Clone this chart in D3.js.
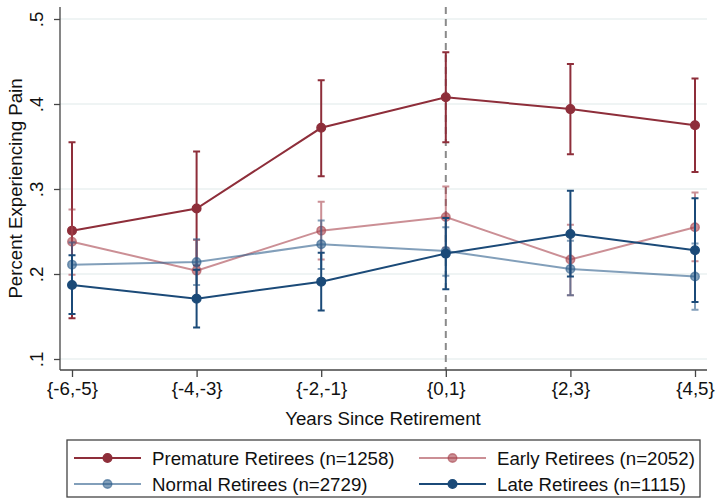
<!DOCTYPE html>
<html>
<head>
<meta charset="utf-8">
<script src="https://cdn.jsdelivr.net/npm/d3@7"></script>
<style>
  html, body { margin: 0; padding: 0; background: #fff; }
  svg { display: block; font-family: "Liberation Sans", Arial, sans-serif; }
</style>
</head>
<body>
<svg id="chart" width="716" height="499"></svg>
<script>
// Periods relative to retirement
const categories = ["{-6,-5}", "{-4,-3}", "{-2,-1}", "{0,1}", "{2,3}", "{4,5}"];
const yTicks = [0.1, 0.2, 0.3, 0.4, 0.5];

// Share experiencing pain, with 95% confidence bounds
const prematureMean  = [0.251, 0.277, 0.372, 0.408, 0.394, 0.375];
const prematureLow   = [0.148, 0.210, 0.315, 0.355, 0.341, 0.320];
const prematureHigh  = [0.355, 0.344, 0.428, 0.461, 0.447, 0.430];

const earlyMean  = [0.238, 0.204, 0.251, 0.267, 0.217, 0.255];
const earlyLow   = [0.199, 0.170, 0.217, 0.231, 0.175, 0.215];
const earlyHigh  = [0.276, 0.240, 0.285, 0.303, 0.258, 0.296];

const normalMean  = [0.211, 0.214, 0.235, 0.227, 0.206, 0.197];
const normalLow   = [0.185, 0.187, 0.206, 0.198, 0.175, 0.158];
const normalHigh  = [0.237, 0.241, 0.263, 0.255, 0.239, 0.236];

const lateMean  = [0.187, 0.171, 0.191, 0.224, 0.247, 0.228];
const lateLow   = [0.153, 0.137, 0.157, 0.182, 0.197, 0.167];
const lateHigh  = [0.222, 0.205, 0.225, 0.266, 0.298, 0.289];

const seriesNames = ["Premature Retirees (n=1258)", "Early Retirees (n=2052)",
                     "Normal Retirees (n=2729)", "Late Retirees (n=1115)"];

const series = [
  { name: seriesNames[0], mean: prematureMean, low: prematureLow, high: prematureHigh,
    color: "#8e2e3a", opacity: 1 },
  { name: seriesNames[1], mean: earlyMean, low: earlyLow, high: earlyHigh,
    color: "#a9444f", opacity: 0.6 },
  { name: seriesNames[2], mean: normalMean, low: normalLow, high: normalHigh,
    color: "#2e5f8c", opacity: 0.6 },
  { name: seriesNames[3], mean: lateMean, low: lateLow, high: lateHigh,
    color: "#1b4a78", opacity: 1 }
];

const svg = d3.select("#chart");
const FONT = 18.7;

const x = d3.scalePoint().domain(categories).range([72, 695]);
const y = d3.scaleLinear().domain([0.1, 0.5]).range([359, 19]);

const plotLeft = 60, plotRight = 707, plotTop = 7, plotBottom = 370;

// grid lines
svg.append("g")
  .selectAll("line")
  .data(yTicks)
  .join("line")
  .attr("x1", plotLeft).attr("x2", plotRight)
  .attr("y1", d => y(d)).attr("y2", d => y(d))
  .attr("stroke", "#eaf1f1")
  .attr("stroke-width", 1.5);

// reference line at retirement
svg.append("line")
  .attr("x1", x("{0,1}")).attr("x2", x("{0,1}"))
  .attr("y1", plotTop).attr("y2", plotBottom)
  .attr("stroke", "#8a8a8a")
  .attr("stroke-width", 2)
  .attr("stroke-dasharray", "7,5");

// y axis
const yAxis = svg.append("g")
  .attr("transform", `translate(${plotLeft},0)`)
  .call(d3.axisLeft(y).tickValues(yTicks).tickSize(6)
        .tickFormat(d => d3.format(".1f")(d).replace(/^0/, "")));
yAxis.select(".domain").attr("d", `M0,${plotTop}V${plotBottom}`)
  .attr("stroke", "#444").attr("stroke-width", 1.3);
yAxis.selectAll(".tick line").attr("stroke", "#444").attr("stroke-width", 1.3);
yAxis.selectAll(".tick text")
  .attr("x", null).attr("dy", null)
  .attr("transform", "translate(-17,0) rotate(-90)")
  .attr("text-anchor", "middle")
  .attr("font-size", FONT)
  .attr("font-family", "Liberation Sans, Arial, sans-serif")
  .attr("fill", "#111");

// x axis
const xAxis = svg.append("g")
  .attr("transform", `translate(0,${plotBottom})`)
  .call(d3.axisBottom(x).tickSize(7));
xAxis.select(".domain").attr("d", `M${plotLeft},0H${plotRight}`)
  .attr("stroke", "#444").attr("stroke-width", 1.3);
xAxis.selectAll(".tick line").attr("stroke", "#444").attr("stroke-width", 1.3);
xAxis.selectAll(".tick text")
  .attr("y", 25).attr("dy", null)
  .attr("font-size", FONT)
  .attr("font-family", "Liberation Sans, Arial, sans-serif")
  .attr("fill", "#111");

// axis titles
svg.append("text")
  .attr("x", 383).attr("y", 425)
  .attr("text-anchor", "middle")
  .attr("font-size", FONT)
  .attr("fill", "#111")
  .text("Years Since Retirement");

svg.append("text")
  .attr("transform", `translate(22,${(plotTop + plotBottom) / 2}) rotate(-90)`)
  .attr("text-anchor", "middle")
  .attr("font-size", FONT)
  .attr("fill", "#111")
  .text("Percent Experiencing Pain");

// series: confidence bars, connecting line, markers (each element translucent
// on its own so overlaps within a series darken)
const capHalf = 3.5;
series.forEach(s => {
  const g = svg.append("g");
  const idx = d3.range(categories.length);

  idx.forEach(i => {
    const cx = x(categories[i]);
    g.append("path")
      .attr("d", `M${cx},${y(s.low[i])}V${y(s.high[i])}` +
                 `M${cx - capHalf},${y(s.low[i])}H${cx + capHalf}` +
                 `M${cx - capHalf},${y(s.high[i])}H${cx + capHalf}`)
      .attr("fill", "none")
      .attr("stroke", s.color)
      .attr("stroke-opacity", s.opacity)
      .attr("stroke-width", 2);
  });

  g.append("path")
    .datum(idx)
    .attr("fill", "none")
    .attr("stroke", s.color)
    .attr("stroke-opacity", s.opacity)
    .attr("stroke-width", 2)
    .attr("d", d3.line().x(i => x(categories[i])).y(i => y(s.mean[i])));

  g.selectAll("circle")
    .data(idx)
    .join("circle")
    .attr("cx", i => x(categories[i]))
    .attr("cy", i => y(s.mean[i]))
    .attr("r", 4.3)
    .attr("fill", s.color)
    .attr("fill-opacity", s.opacity)
    .attr("stroke", s.color)
    .attr("stroke-opacity", s.opacity)
    .attr("stroke-width", 1.4);
});

// legend
const legend = svg.append("g");
legend.append("rect")
  .attr("x", 67).attr("y", 440)
  .attr("width", 633).attr("height", 57)
  .attr("fill", "#fff")
  .attr("stroke", "#444")
  .attr("stroke-width", 1.3);

const legendPos = [
  { lx: 74, rowY: 458 },
  { lx: 419, rowY: 458 },
  { lx: 74, rowY: 484 },
  { lx: 419, rowY: 484 }
];
series.forEach((s, i) => {
  const p = legendPos[i];
  legend.append("line")
    .attr("x1", p.lx).attr("x2", p.lx + 67)
    .attr("y1", p.rowY).attr("y2", p.rowY)
    .attr("stroke", s.color).attr("stroke-opacity", s.opacity)
    .attr("stroke-width", 2);
  legend.append("circle")
    .attr("cx", p.lx + 33.5).attr("cy", p.rowY)
    .attr("r", 4.3)
    .attr("fill", s.color).attr("fill-opacity", s.opacity)
    .attr("stroke", s.color).attr("stroke-opacity", s.opacity)
    .attr("stroke-width", 1.4);
  legend.append("text")
    .attr("x", p.lx + 78).attr("y", p.rowY + 6.5)
    .attr("font-size", FONT)
    .attr("fill", "#111")
    .text(s.name);
});
</script>
</body>
</html>
